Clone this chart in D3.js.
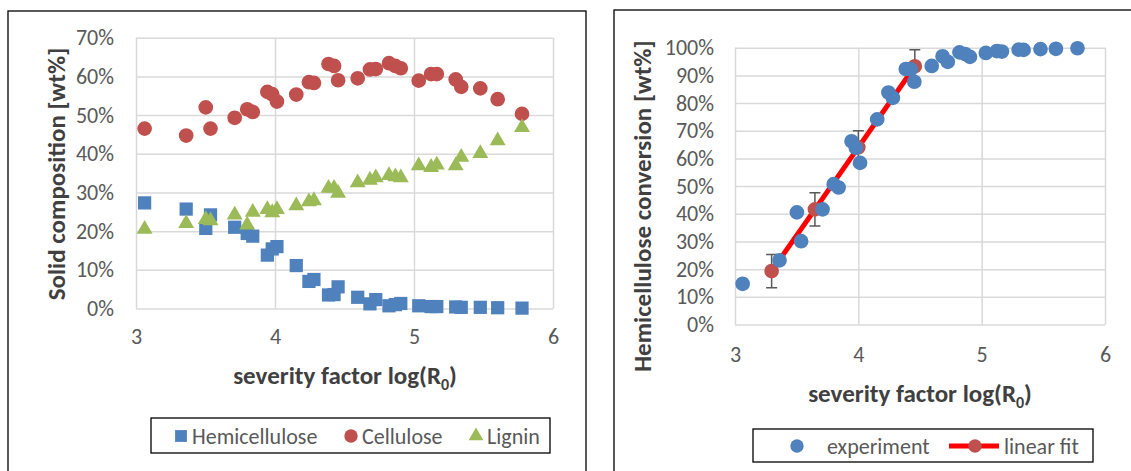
<!DOCTYPE html>
<html lang="en">
<head>
<meta charset="UTF-8">
<title>Solid composition and hemicellulose conversion</title>
<script src="https://d3js.org/d3.v7.min.js"></script>
<style>
    body { margin: 0; padding: 0; background: #fff; }
    #misvg { display: block; font-family: Carlito, Calibri, Lato, sans-serif; }
</style>
</head>
<body>

<svg id="misvg" width="1131" height="471"></svg>

<script>
// severity factor log(R0), shared by every series
const severity = [3.062, 3.361, 3.502, 3.536, 3.71, 3.80, 3.84, 3.945, 3.98, 4.014,
                  4.153, 4.244, 4.28, 4.385, 4.425, 4.454, 4.595, 4.683, 4.725, 4.82,
                  4.866, 4.905, 5.034, 5.123, 5.164, 5.30, 5.34, 5.477, 5.602, 5.777];

// solid composition, wt%
const hemicellulose = [27.3, 25.7, 20.7, 24.2, 21.0, 19.4, 18.7, 13.8, 15.4, 16.0,
                       11.1, 7.0, 7.5, 3.5, 3.6, 5.6, 2.9, 1.2, 2.3, 0.7,
                       1.0, 1.3, 0.7, 0.5, 0.5, 0.4, 0.3, 0.3, 0.2, 0.1];
const cellulose = [46.5, 44.7, 52.0, 46.5, 49.3, 51.5, 50.8, 56.0, 55.4, 53.5,
                   55.3, 58.5, 58.3, 63.2, 62.7, 59.0, 59.5, 61.8, 61.9, 63.4,
                   62.7, 62.1, 58.9, 60.6, 60.6, 59.2, 57.3, 56.9, 54.1, 50.3];
const lignin = [20.5, 22.0, 23.0, 22.7, 24.2, 21.6, 24.9, 25.6, 24.8, 25.6,
                26.6, 27.6, 27.9, 31.1, 31.1, 29.8, 32.5, 33.2, 33.8, 34.4,
                34.1, 33.8, 36.9, 36.5, 37.1, 36.9, 39.1, 40.1, 43.4, 46.8];

// hemicellulose conversion, wt%
const conversion = [14.7, 23.2, 40.5, 30.1, 41.6, 50.7, 49.5, 66.2, 63.8, 58.4,
                    74.1, 83.8, 81.9, 92.3, 92.2, 87.7, 93.4, 96.9, 94.9, 98.3,
                    97.7, 96.7, 98.1, 98.8, 98.6, 99.3, 99.2, 99.5, 99.6, 99.8];

// linear fit points with error bars
const fitX = [3.297, 3.648, 4.0, 4.458];
const fitY = [19.3, 41.6, 64.0, 93.3];
const fitErr = [6, 6, 6, 6];

const xTicks = [3, 4, 5, 6];
const leftYTicks = [0, 10, 20, 30, 40, 50, 60, 70];
const rightYTicks = [0, 10, 20, 30, 40, 50, 60, 70, 80, 90, 100];

const blue = '#4F81BD', red = '#C0504D', green = '#9BBB59';
const gridColor = '#D9D9D9', textColor = '#595959', titleColor = '#404040';

const svg = d3.select('#misvg');

// chart frames
svg.append('rect').attr('x', 8).attr('y', 11).attr('width', 578).attr('height', 480)
    .attr('fill', 'none').attr('stroke', '#000').attr('stroke-width', 1.3);
svg.append('rect').attr('x', 614).attr('y', 10).attr('width', 540).attr('height', 480)
    .attr('fill', 'none').attr('stroke', '#000').attr('stroke-width', 1.3);

function drawAxes(xS, yS, yTicks, yPad, xPad) {
    const g = svg.append('g');
    const [x0, x1] = xS.range();
    const [y0, y1] = yS.range();

    g.append('g')
        .attr('transform', `translate(${x0},0)`)
        .call(d3.axisLeft(yS).tickValues(yTicks).tickSize(-(x1 - x0))
              .tickPadding(yPad).tickFormat(d => d + '%'))
        .call(a => a.select('.domain').remove())
        .call(a => a.selectAll('line').attr('stroke', gridColor).attr('stroke-width', 1.5));

    g.append('g')
        .attr('transform', `translate(0,${y0})`)
        .call(d3.axisBottom(xS).tickValues(xTicks).tickSize(-(y0 - y1))
              .tickPadding(xPad).tickFormat(d3.format('d')))
        .call(a => a.select('.domain').remove())
        .call(a => a.selectAll('line').attr('stroke', gridColor).attr('stroke-width', 1.5));

    g.selectAll('text')
        .attr('fill', textColor)
        .style('font-size', '22px')
        .style('font-family', 'Carlito, Calibri, Lato, sans-serif');
    return g;
}

function xTitle(cx, y) {
    const t = svg.append('text')
        .attr('x', cx).attr('y', y)
        .attr('text-anchor', 'middle')
        .attr('fill', titleColor)
        .style('font-size', '25px').style('font-weight', 'bold')
        .text('severity factor log(R');
    t.append('tspan').attr('dy', 6).style('font-size', '16px').text('0');
    t.append('tspan').attr('dy', -6).text(')');
}

function yTitle(cx, cy, label) {
    svg.append('text')
        .attr('transform', `translate(${cx},${cy}) rotate(-90)`)
        .attr('text-anchor', 'middle')
        .attr('dy', '0.35em')
        .attr('fill', titleColor)
        .style('font-size', '25px').style('font-weight', 'bold')
        .text(label);
}

function markers(g, xS, yS, xs, ys, shape, size, color) {
    g.selectAll(null)
        .data(xs.map((x, i) => [x, ys[i]]))
        .enter().append('path')
        .attr('d', d3.symbol().type(shape).size(size))
        .attr('transform', d => `translate(${xS(d[0])},${yS(d[1])})`)
        .attr('fill', color);
}

// ---------- left chart: solid composition ----------
const xL = d3.scaleLinear().domain([3, 6]).range([136, 553]);
const yL = d3.scaleLinear().domain([0, 70]).range([308.5, 37.7]);

drawAxes(xL, yL, leftYTicks, 22, 20);
xTitle(345, 384);
yTitle(56, 174, 'Solid composition [wt%]');

const leftMarks = svg.append('g');
markers(leftMarks, xL, yL, severity, hemicellulose, d3.symbolSquare, 175, blue);
markers(leftMarks, xL, yL, severity, cellulose, d3.symbolCircle, 170, red);
markers(leftMarks, xL, yL, severity, lignin, d3.symbolTriangle, 110, green);

// left legend
const legL = svg.append('g');
legL.append('rect').attr('x', 151).attr('y', 418).attr('width', 399).attr('height', 35)
    .attr('fill', '#fff').attr('stroke', '#000').attr('stroke-width', 1.3);
const leftLegend = [
    {label: 'Hemicellulose', shape: d3.symbolSquare, size: 140, color: blue, x: 181},
    {label: 'Cellulose', shape: d3.symbolCircle, size: 140, color: red, x: 351},
    {label: 'Lignin', shape: d3.symbolTriangle, size: 95, color: green, x: 476}
];
leftLegend.forEach(d => {
    legL.append('path').attr('d', d3.symbol().type(d.shape).size(d.size))
        .attr('transform', `translate(${d.x},436)`).attr('fill', d.color);
    legL.append('text').attr('x', d.x + 11).attr('y', 436).attr('dy', '0.35em')
        .attr('fill', textColor).style('font-size', '22px').text(d.label);
});

// ---------- right chart: hemicellulose conversion ----------
const xR = d3.scaleLinear().domain([3, 6]).range([735, 1105]);
const yR = d3.scaleLinear().domain([0, 100]).range([324.5, 47.7]);

drawAxes(xR, yR, rightYTicks, 21, 22);
xTitle(920, 402);
yTitle(642, 206, 'Hemicellulose conversion [wt%]');

const fitG = svg.append('g');
const fitData = fitX.map((x, i) => ({x: x, y: fitY[i], e: fitErr[i]}));

// error bars
fitData.forEach(d => {
    const top = yR(d.y + d.e), bot = yR(d.y - d.e), cx = xR(d.x);
    fitG.append('path')
        .attr('d', `M${cx},${top}V${bot}M${cx - 5.5},${top}H${cx + 5.5}M${cx - 5.5},${bot}H${cx + 5.5}`)
        .attr('stroke', '#595959').attr('stroke-width', 1.5).attr('fill', 'none');
});

fitG.append('path')
    .datum(fitData)
    .attr('d', d3.line().x(d => xR(d.x)).y(d => yR(d.y)))
    .attr('fill', 'none').attr('stroke', '#FF0000').attr('stroke-width', 5)
    .attr('stroke-linecap', 'round');
markers(fitG, xR, yR, fitX, fitY, d3.symbolCircle, 170, red);

const expG = svg.append('g');
markers(expG, xR, yR, severity, conversion, d3.symbolCircle, 170, blue);

// right legend
const legR = svg.append('g');
legR.append('rect').attr('x', 753).attr('y', 429).attr('width', 340).attr('height', 33)
    .attr('fill', '#fff').attr('stroke', '#000').attr('stroke-width', 1.3);
legR.append('path').attr('d', d3.symbol().type(d3.symbolCircle).size(140))
    .attr('transform', 'translate(797,446)').attr('fill', blue);
legR.append('text').attr('x', 827).attr('y', 446).attr('dy', '0.35em')
    .attr('fill', textColor).style('font-size', '22px').text('experiment');
legR.append('line').attr('x1', 949).attr('x2', 999).attr('y1', 446).attr('y2', 446)
    .attr('stroke', '#FF0000').attr('stroke-width', 5);
legR.append('path').attr('d', d3.symbol().type(d3.symbolCircle).size(140))
    .attr('transform', 'translate(975,446)').attr('fill', red);
legR.append('text').attr('x', 1004).attr('y', 446).attr('dy', '0.35em')
    .attr('fill', textColor).style('font-size', '22px').text('linear fit');
</script>

</body>
</html>
